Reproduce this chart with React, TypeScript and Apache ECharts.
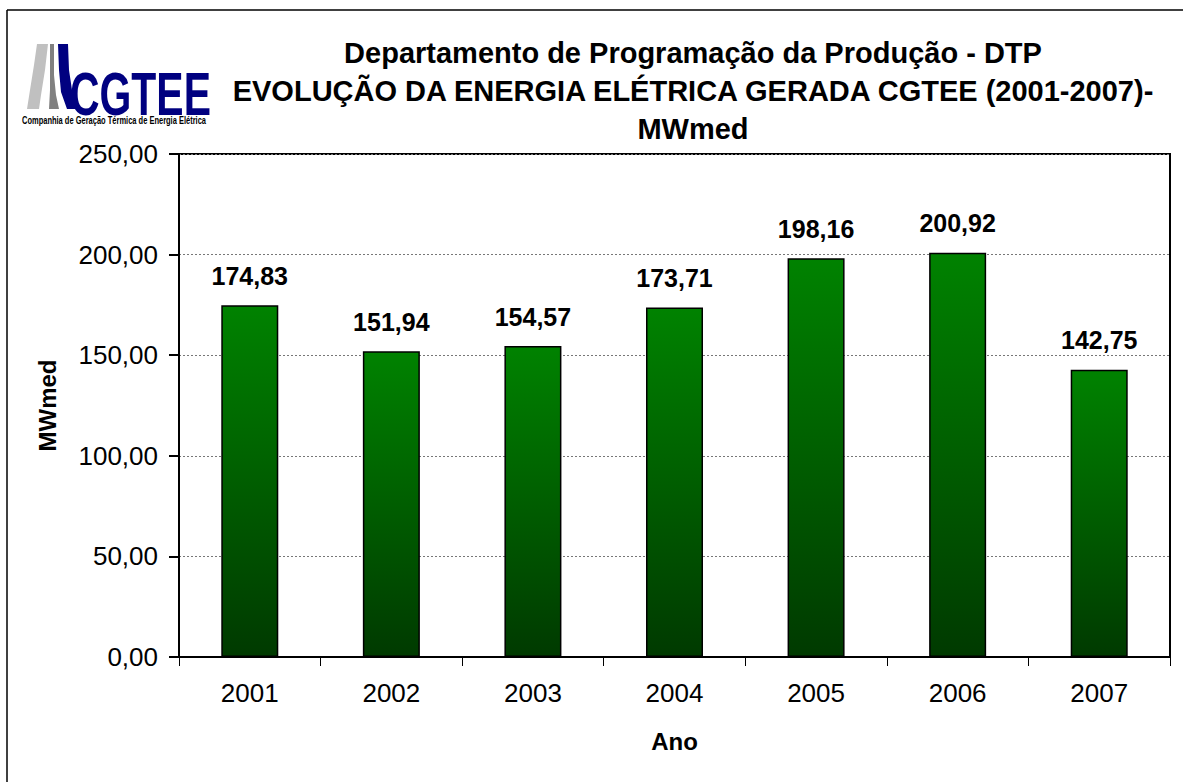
import React, { useEffect, useRef } from "react";
import * as echarts from "echarts";

const years = ["2001", "2002", "2003", "2004", "2005", "2006", "2007"];
const mwmed = [174.83, 151.94, 154.57, 173.71, 198.16, 200.92, 142.75];
const titleLines = [
  "Departamento de Programação da Produção - DTP",
  "EVOLUÇÃO DA ENERGIA ELÉTRICA GERADA CGTEE (2001-2007)-",
  "MWmed",
];

const fmt = (v: number) => v.toFixed(2).replace(".", ",");
const FONT = "Arial, 'Liberation Sans', sans-serif";

export default function App() {
  const ref = useRef<HTMLDivElement>(null);
  useEffect(() => {
    document.body.style.margin = "0";
    const chart = echarts.init(ref.current!, undefined, { renderer: "svg" });
    chart.setOption({
      animation: false,
      backgroundColor: "#fff",
      textStyle: { fontFamily: FONT },
      title: {
        text: titleLines.join("\n"),
        left: 693,
        top: 34,
        padding: 0,
        textAlign: "center",
        textStyle: { fontSize: 29, fontWeight: "bold", color: "#000", lineHeight: 38, fontFamily: FONT },
      },
      grid: {
        left: 179,
        top: 154,
        right: 13,
        bottom: 125,
        show: true,
        borderColor: "#000",
        borderWidth: 2,
      },
      xAxis: {
        type: "category",
        data: years,
        name: "Ano",
        nameLocation: "middle",
        nameGap: 72,
        nameTextStyle: { fontSize: 24, fontWeight: "bold", color: "#000" },
        axisLine: { lineStyle: { color: "#000", width: 2 } },
        axisTick: { show: true, length: 9, lineStyle: { color: "#000", width: 1 } },
        axisLabel: { fontSize: 26, color: "#000", margin: 23 },
      },
      yAxis: {
        type: "value",
        min: 0,
        max: 250,
        interval: 50,
        name: "MWmed",
        nameLocation: "middle",
        nameGap: 120,
        nameTextStyle: { fontSize: 24, fontWeight: "bold", color: "#000" },
        axisLine: { show: true, lineStyle: { color: "#000", width: 2 } },
        axisTick: { show: true, length: 10, lineStyle: { color: "#000", width: 2 } },
        axisLabel: { fontSize: 26, color: "#000", margin: 21, formatter: (v: number) => fmt(v) },
        splitLine: { show: true, lineStyle: { color: "#777", type: [2, 2], width: 1 } },
      },
      series: [
        {
          type: "bar",
          data: mwmed,
          barWidth: 57,
          itemStyle: {
            borderColor: "#000",
            borderWidth: 1.5,
            color: new echarts.graphic.LinearGradient(0, 0, 0, 1, [
              { offset: 0, color: "#008200" },
              { offset: 1, color: "#003a00" },
            ]),
          },
          label: {
            show: true,
            position: "top",
            distance: 17,
            fontSize: 25,
            fontWeight: "bold",
            color: "#000",
            formatter: (p: any) => fmt(p.value),
          },
        },
      ],
      graphic: [
        { type: "line", shape: { x1: 7, y1: 10, x2: 1183, y2: 10 }, style: { stroke: "#000", lineWidth: 1.5 } },
        { type: "line", shape: { x1: 7, y1: 10, x2: 7, y2: 782 }, style: { stroke: "#000", lineWidth: 1.5 } },
        {
          type: "polygon",
          shape: { points: [[37, 44], [48, 44], [45, 70], [41, 95], [39, 109], [27, 109], [30, 90], [34, 65]] },
          style: { fill: "#c0c0c0" },
        },
        {
          type: "polygon",
          shape: { points: [[50, 44], [54, 44], [54, 75], [56, 95], [59, 109], [49, 109], [50, 90], [50, 70]] },
          style: { fill: "#808080" },
        },
        {
          type: "polygon",
          shape: { points: [[58, 44], [68, 44], [69, 70], [72, 90], [78, 109], [67, 109], [61, 92], [59, 70]] },
          style: { fill: "#000080" },
        },
        {
          type: "text",
          x: 70,
          y: 62,
          scaleX: 0.66,
          style: { text: "CGTEE", fontSize: 62, fontWeight: "bold", fill: "#000080", fontFamily: FONT },
        },
        {
          type: "text",
          x: 22,
          y: 116,
          scaleX: 0.75,
          style: {
            text: "Companhia de Geração Térmica de Energia Elétrica",
            fontSize: 10,
            fontWeight: "bold",
            fill: "#000",
            fontFamily: FONT,
          },
        },
      ],
    });
    return () => chart.dispose();
  }, []);
  return <div ref={ref} style={{ width: 1183, height: 782 }} />;
}
